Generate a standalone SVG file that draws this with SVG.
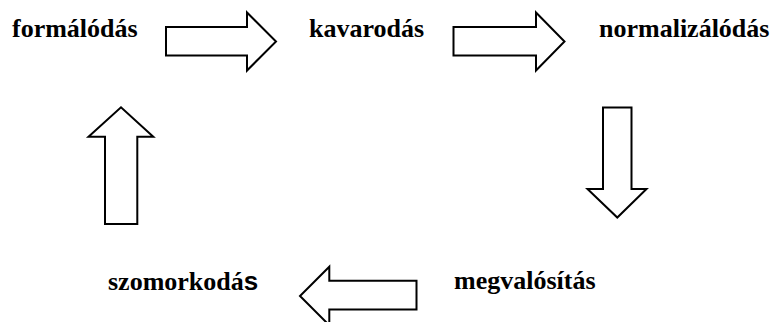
<svg xmlns="http://www.w3.org/2000/svg" width="770" height="322" viewBox="0 0 770 322">
  <rect width="770" height="322" fill="#fff"/>

  <!-- labels: bold serif, one group per node -->
  <g font-family="Liberation Serif" font-weight="bold" font-size="26" fill="#000">
    <g id="formalodas"><text x="12" y="36.7">formálódás</text></g>
    <g id="kavarodas"><text x="309" y="36.7">kavarodás</text></g>
    <g id="normalizalodas"><text x="599" y="36.7">normalizálódás</text></g>
    <g id="megvalositas"><text x="454" y="289">megvalósítás</text></g>
    <g id="szomorkodas"><text x="108" y="290">szomorkodá<tspan font-family="Liberation Sans">s</tspan></text></g>
  </g>

  <!-- block arrows share one outline style via the group -->
  <g id="connectors" fill="#fff" stroke="#000" stroke-width="2" stroke-linejoin="miter">
    <!-- right: formálódás to kavarodás -->
    <polygon points="166,27 247,27 247,12.5 276,41.5 247,70.5 247,55.5 166,55.5"/>
    <!-- right: kavarodás to normalizálódás -->
    <polygon points="453.5,27 536,27 536,12.5 564.5,41.5 536,70.5 536,55.5 453.5,55.5"/>
    <!-- down: normalizálódás to megvalósítás -->
    <polygon points="603,107.5 631.5,107.5 631.5,189 646.5,189 617.3,217.5 587.5,189 603,189"/>
    <!-- left: megvalósítás to szomorkodás -->
    <polygon points="416.5,280.7 329.3,280.7 329.3,266.7 300,296 329.3,325.3 329.3,309.5 416.5,309.5"/>
    <!-- up: szomorkodás to formálódás -->
    <polygon points="105,224 137.3,224 137.3,136.7 153.3,136.7 121,107.3 88.5,136.7 105,136.7"/>
  </g>
</svg>
